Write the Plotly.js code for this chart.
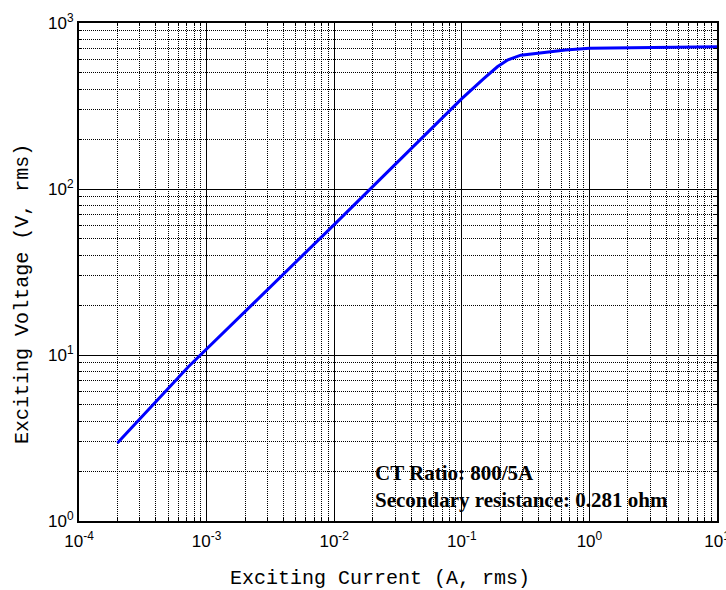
<!DOCTYPE html>
<html>
<head>
<meta charset="utf-8">
<script src="https://cdn.plot.ly/plotly-3.0.1.min.js"></script>
<style>html,body{margin:0;padding:0;background:#fff}#chart{width:726px;height:590px}</style>
</head>
<body>
<div id="chart"></div>
<script>
const currentA = [2e-4, 7.2e-4, 1e-2, 0.1, 0.15, 0.19, 0.23, 0.29, 0.65, 1.0, 10];
const voltageV = [2.95, 8.5, 61, 350, 465, 545, 600, 640, 688, 704, 720];
const xTickVals = [1e-4, 1e-3, 1e-2, 1e-1, 1, 10];
const xTickText = ['10<sup>-4</sup>', '10<sup>-3</sup>', '10<sup>-2</sup>', '10<sup>-1</sup>', '10<sup>0</sup>', '10<sup>1</sup>'];
const yTickVals = [1, 10, 100, 1000];
const yTickText = ['10<sup>0</sup>', '10<sup>1</sup>', '10<sup>2</sup>', '10<sup>3</sup>'];
const xTitle = "Exciting Current (A, rms)";
const yTitle = "Exciting Voltage (V, rms)";
const noteLines = ["CT Ratio: 800/5A", "Secondary resistance: 0.281 ohm"];

function minorVals(decades) {
  const out = [];
  decades.slice(0, -1).forEach(d => { for (let m = 2; m <= 9; m++) out.push(d * m); });
  return out;
}

function axis(vals, text) {
  return {
    type: 'log',
    tickmode: 'array', tickvals: vals, ticktext: text,
    ticklabeloverflow: 'allow',
    showline: true, linecolor: '#000', linewidth: 2,
    mirror: 'allticks',
    ticks: 'inside', ticklen: 5, tickcolor: '#000',
    showgrid: true, gridcolor: '#000', gridwidth: 1,
    zeroline: false,
    tickfont: {family: 'Liberation Sans, Arial', size: 17, color: '#000'},
    minor: {tickmode: 'array', tickvals: minorVals(vals), ticks: 'inside', ticklen: 3, tickcolor: '#000',
            showgrid: true, gridcolor: '#000', gridwidth: 1, griddash: '1px,1px'}
  };
}

const titleFont = {family: 'Liberation Mono, Courier New, monospace', size: 20, color: '#000'};
const noteFont = {family: 'Liberation Serif, Times New Roman, serif', size: 21, color: '#000'};

Plotly.newPlot('chart', [{
  x: currentA, y: voltageV, type: 'scatter', mode: 'lines',
  line: {color: '#0000ff', width: 3}, hoverinfo: 'skip'
}], {
  width: 726, height: 590,
  margin: {l: 79, r: 9, t: 23, b: 69},
  paper_bgcolor: '#fff', plot_bgcolor: '#fff',
  showlegend: false,
  xaxis: Object.assign(axis(xTickVals, xTickText), {range: [-4, 1], ticklabelstandoff: 4}),
  yaxis: Object.assign(axis(yTickVals, yTickText), {range: [0, 3]}),
  annotations: [
    {xref: 'paper', yref: 'paper', x: 0.472, y: -0.1145, xanchor: 'center', yanchor: 'middle', showarrow: false,
     text: xTitle, font: titleFont},
    {xref: 'paper', yref: 'paper', x: -0.0878, y: 0.456, xanchor: 'center', yanchor: 'middle', showarrow: false,
     text: yTitle, font: titleFont, textangle: -90},
    {xref: 'paper', yref: 'paper', x: 0.461, y: 0.096, xanchor: 'left', yanchor: 'middle', showarrow: false,
     text: '<b>' + noteLines[0] + '</b>', font: noteFont},
    {xref: 'paper', yref: 'paper', x: 0.461, y: 0.042, xanchor: 'left', yanchor: 'middle', showarrow: false,
     text: '<b>' + noteLines[1] + '</b>', font: noteFont}
  ]
}, {staticPlot: true});
</script>
</body>
</html>
